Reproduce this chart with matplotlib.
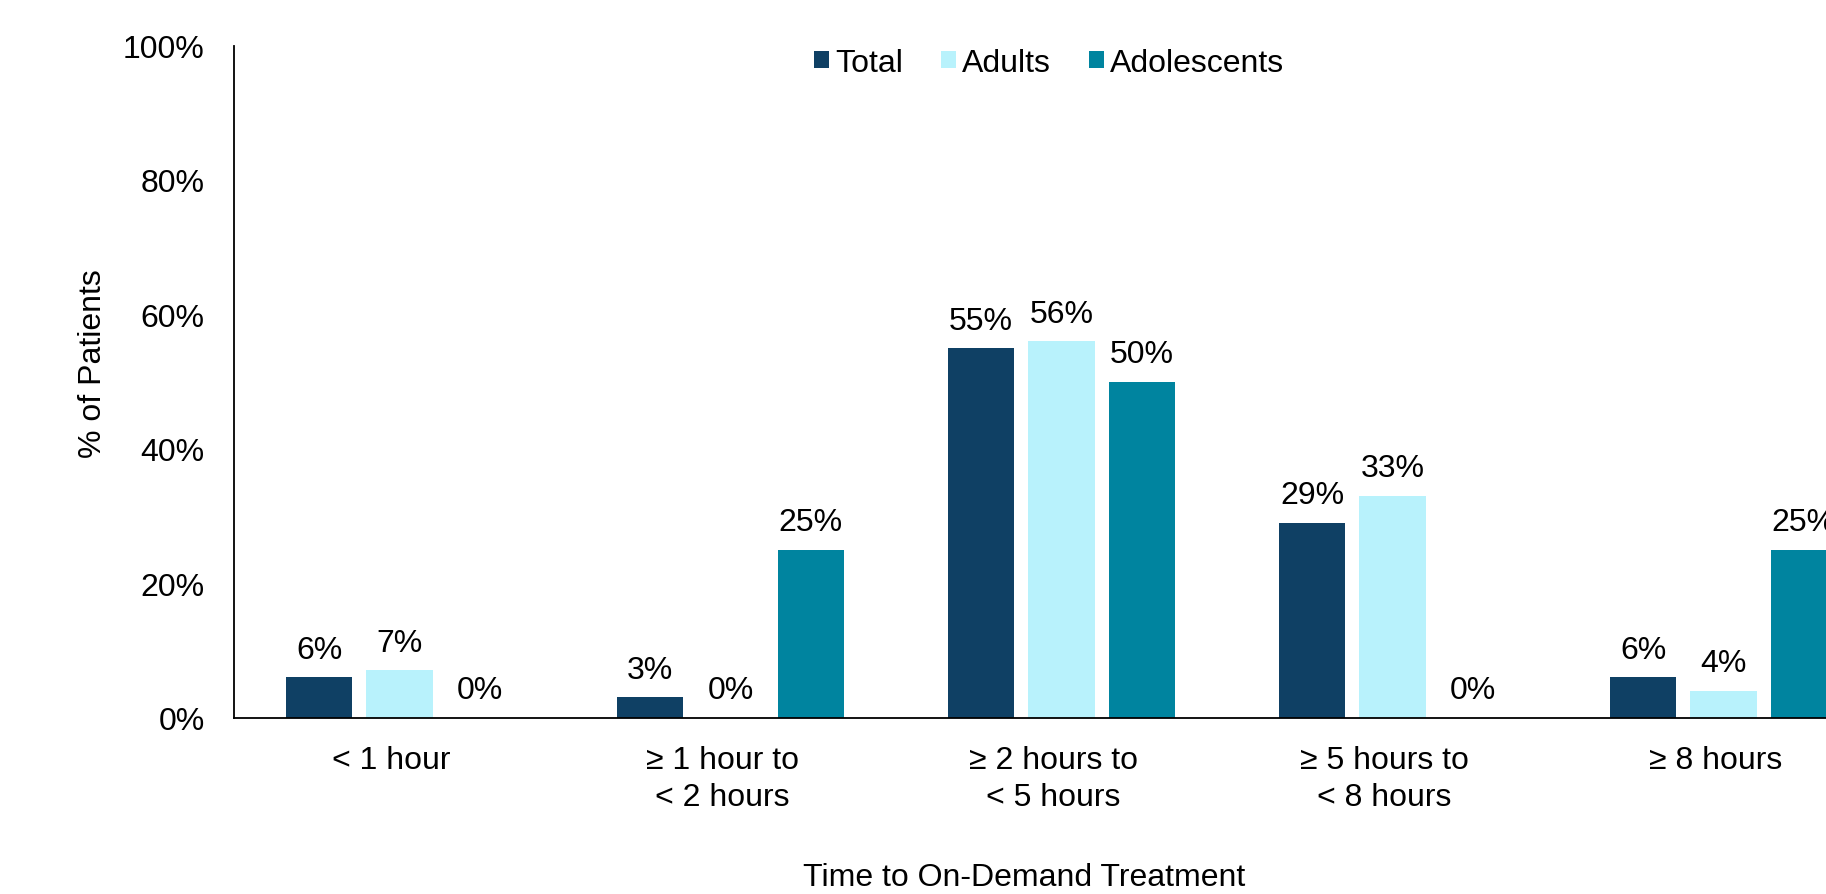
import matplotlib
matplotlib.use("Agg")
import matplotlib.pyplot as plt
import matplotlib.transforms as mtransforms
import numpy as np

plt.rcParams['font.family'] = ['Liberation Sans', 'DejaVu Sans']

categories = ["< 1 hour", "≥ 1 hour to\n< 2 hours", "≥ 2 hours to\n< 5 hours",
              "≥ 5 hours to\n< 8 hours", "≥ 8 hours"]
series_names = ["Total", "Adults", "Adolescents"]
total = [6, 3, 55, 29, 6]
adults = [7, 0, 56, 33, 4]
adolescents = [0, 25, 50, 0, 25]
colors = ["#0F4064", "#B8F2FC", "#00849F"]
yticks = [0, 20, 40, 60, 80, 100]

FS = 23
fig = plt.figure(figsize=(18.26, 8.95), dpi=100)
ax = fig.add_axes([234/1826, 1-718.5/895, 1655/1826, (718.5-46.6)/895])

x = np.arange(len(categories))
width = 0.2
step = 0.243
for i, (name, vals, c) in enumerate(zip(series_names, [total, adults, adolescents], colors)):
    pos = x + (i-1)*step
    ax.bar(pos, vals, width, color=c, label=name)
    for p, v in zip(pos, vals):
        ax.annotate(f"{v}%", (p, v), xytext=(0, 14), textcoords="offset points",
                    ha="center", va="baseline", fontsize=FS)

ax.set_xlim(-0.5, 4.5)
ax.set_ylim(0, 100)
ax.set_yticks(yticks)
ax.set_yticklabels([f"{t}%" for t in yticks], fontsize=FS)
ax.set_xticks(x)
ax.set_xticklabels(categories, fontsize=FS, linespacing=1.3)
ax.tick_params(axis='both', length=0)
ax.tick_params(axis='y', pad=21)
ax.tick_params(axis='x', pad=20)
shift = mtransforms.ScaledTranslation(-8/100, 0, fig.dpi_scale_trans)
for lbl in ax.get_xticklabels():
    lbl.set_transform(lbl.get_transform() + shift)
for s in ['top', 'right']:
    ax.spines[s].set_visible(False)
for s in ['left', 'bottom']:
    ax.spines[s].set_color('black')
    ax.spines[s].set_linewidth(1.3)

ax.set_ylabel("% of Patients", fontsize=FS, va='center')
ax.yaxis.set_label_coords((93-234)/1655, 0.528)
ax.set_xlabel("Time to On-Demand Treatment", fontsize=FS, va='center')
ax.xaxis.set_label_coords((1024-234)/1655, -(878-718.5)/671.9)

fig.legend(loc="center", bbox_to_anchor=(1049/1826, 1-64/895), ncol=3, frameon=False,
           fontsize=FS, handlelength=0.47, handleheight=0.47, handletextpad=0.18,
           columnspacing=1.2)

fig.savefig("out.png", dpi=100)
